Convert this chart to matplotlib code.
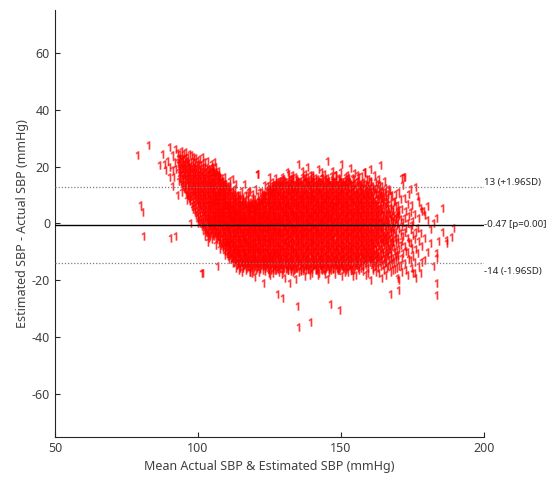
import matplotlib
matplotlib.use("Agg")
import matplotlib.pyplot as plt
import numpy as np
from matplotlib.textpath import TextPath
from matplotlib.font_manager import FontProperties
from matplotlib.path import Path

plt.rcParams["font.family"] = ["Noto Sans", "DejaVu Sans"]
plt.rcParams["axes.unicode_minus"] = False

# summary statistics of the differences
mean_diff = -0.47
upper_loa = 12.86
lower_loa = -13.8
label_upper = "13 (+1.96SD)"
label_mean = "-0.47 [p=0.00]"
label_lower = "-14 (-1.96SD)"

x_ticks = [50, 100, 150, 200]
y_ticks = [-60, -40, -20, 0, 20, 40, 60]

# sparse points on the low-pressure side (mean, difference)
left_points = [
    (78.6, 24.0), (79.6, 6.5), (80.4, 4.2), (80.7, -4.4), (82.5, 27.6),
    (86.5, 20.5), (87.4, 24.4), (88.0, 21.0), (88.6, 18.8), (89.0, 22.0),
    (89.7, 26.8), (89.7, 16.4), (90.0, 20.0), (90.3, -5.2), (90.9, 24.0),
    (91.0, 18.8), (91.0, 13.0), (91.4, 16.4), (91.5, 21.7), (92.0, -4.4),
    (92.0, 19.0), (92.5, 10.0), (92.6, 24.6), (92.6, 21.7), (97.3, 0.3),
    (99.7, 0.3), (101.4, 0.3), (103.4, 0.5), (101.0, -17.4), (95.9, 8.3),
]

# dense diagonal tail, columns of (mean, [differences])
tail_cols = [
    (93.0, [15, 18, 21, 23]), (93.25, [17.5, 20.5, 24.5]),
    (93.5, [16, 19, 22.5]), (93.75, [14.5, 18.5, 21.5]),
    (94.0, [11, 14, 17, 20, 23]), (94.25, [15.5, 19.5, 22.5]),
    (94.5, [13, 16, 19, 22]), (94.75, [12.5, 17.5, 20.5, 24.5]),
    (95.0, [12, 15, 18, 21]), (95.25, [13.5, 16.5, 19.5, 22.5]),
    (95.5, [11, 14, 17, 20, 23]), (95.75, [10.5, 15.5, 18.5, 21.5]),
    (96.0, [10, 13, 16, 19, 22]), (96.25, [11.5, 14.5, 17.5, 20.5, 23.5]),
    (96.5, [9, 12, 15, 18, 21]), (96.75, [8.5, 13.5, 16.5, 19.5]),
    (97.0, [8, 11, 14, 17, 20]), (97.25, [9.5, 12.5, 15.5, 18.5, 21.5]),
    (97.5, [6, 10, 13, 16, 19, 24]), (97.75, [7.5, 11.5, 14.5, 17.5, 20.5]),
    (98.0, [5, 9, 12, 15, 18, 22]), (98.25, [6.5, 10.5, 13.5, 16.5, 19.5, 23.5]),
    (98.5, [4, 8, 11, 14, 17, 20]), (98.75, [5.5, 9.5, 12.5, 15.5, 18.5, 21.5]),
    (99.0, [3, 7, 10, 13, 16, 19]), (99.25, [4.5, 8.5, 11.5, 14.5, 17.5, 20.5]),
    (99.5, [2, 6, 9, 12, 15, 18, 22]), (99.75, [3.5, 7.5, 10.5, 13.5, 16.5, 19.5]),
    (100.0, [1, 5, 8, 11, 14, 17, 21]), (100.25, [2.5, 6.5, 9.5, 12.5, 15.5, 18.5, 22.5]),
    (100.5, [0, 4, 7, 10, 13, 16, 19]), (100.75, [1.5, 5.5, 8.5, 11.5, 14.5, 17.5, 20.5]),
    (101.0, [-1, 3, 6, 9, 12, 15, 18]), (101.25, [0.5, 4.5, 7.5, 10.5, 13.5, 16.5, 19.5]),
    (101.5, [-2, 2, 5, 8, 11, 14, 17, 21]), (101.75, [-0.5, 3.5, 6.5, 9.5, 12.5, 15.5, 18.5]),
    (102.0, [-2, 1, 4, 7, 10, 13, 16, 20]), (102.25, [-1.5, 2.5, 5.5, 8.5, 11.5, 14.5, 17.5, 21.5]),
    (102.5, [-3, 0, 3, 6, 9, 12, 15, 18]), (102.75, [-2.5, 1.5, 4.5, 7.5, 10.5, 13.5, 16.5, 19.5]),
    (103.0, [-4, -1, 2, 5, 8, 11, 14, 17]), (103.25, [-3.5, 0.5, 3.5, 6.5, 9.5, 12.5, 15.5, 18.5]),
    (103.5, [-5, -2, 1, 4, 7, 10, 13, 16, 19]), (103.75, [-4.5, -0.5, 2.5, 5.5, 8.5, 11.5, 14.5, 17.5]),
]

core_cols_a = [
    (104.0, [-3, 0, 2, 5, 7, 9, 12, 14, 17, 19]),
    (104.5, [-2, 1, 3, 6, 8, 11, 13, 16, 18]),
    (105.0, [-4, -1, 2, 4, 7, 10, 12, 15, 18, 20]),
    (105.5, [-3, 0, 3, 5, 8, 9, 11, 14, 17, 21.7]),
    (106.0, [-5, -2, 1, 3, 6, 8, 10, 13, 16, 18]),
    (106.5, [-4, -1, 2, 4, 7, 9, 12, 15, 17, -15]),
    (107.0, [-6, -3, 0, 2, 5, 8, 10, 12, 15, 17]),
    (107.5, [-5, -2, 1, 3, 6, 9, 11, 14, 16]),
    (108.0, [-7, -4, -1, 2, 4, 6, 9, 11, 13, 16]),
    (108.5, [-8, -5, -2, 0, 3, 5, 8, 10, 13, 15]),
    (109.0, [-9, -6, -3, -1, 2, 4, 7, 9, 12, 14]),
    (109.5, [-8, -6, -4, -1, 1, 3, 6, 8, 11, 14]),
    (110.0, [-10, -7, -5, -2, 0, 3, 5, 7, 10, 13]),
    (110.5, [-11, -8, -6, -3, -1, 2, 4, 6, 9, 12]),
    (111.0, [-11, -9, -6, -4, -1, 1, 3, 6, 8, 11, 13]),
    (111.5, [-12, -10, -7, -5, -2, 0, 2, 5, 7, 10]),
    (112.0, [-12, -9, -7, -4, -2, 1, 3, 5, 8, 11, 15.5]),
    (112.5, [-13, -11, -8, -6, -3, -1, 2, 4, 7, 9, 12]),
    (113.0, [-13, -10, -8, -5, -3, 0, 2, 4, 6, 9, 14]),
    (113.5, [-14, -12, -9, -7, -4, -2, 1, 3, 5, 8, 10]),
    (114.0, [-14, -11, -9, -6, -4, -1, 1, 4, 6, 9]),
    (114.5, [-15, -12, -10, -7, -5, -2, 0, 2, 5, 7, 10]),
    (115.0, [-14, -12, -9, -7, -4, -2, 1, 3, 6, 8, -17]),
    (115.5, [-15, -13, -10, -8, -5, -3, 0, 2, 4, 7, 9]),
    (116.0, [-14, -11, -9, -6, -4, -1, 1, 3, 6, 8, 14]),
    (116.5, [-15, -12, -10, -7, -5, -3, 0, 2, 5, 7, 10]),
    (117.0, [-14, -13, -10, -8, -6, -3, -1, 2, 4, 6]),
    (117.5, [-15, -12, -9, -7, -4, -2, 0, 3, 5, 7, 11]),
    (118.0, [-14, -11, -9, -6, -4, -1, 1, 4, 6, 11.5, -16.9]),
    (118.5, [-15, -13, -10, -8, -5, -3, 0, 2, 5, 7]),
    (119.0, [-14, -12, -9, -7, -4, -2, 1, 3, 6, 9]),
    (119.5, [-15, -13, -11, -8, -6, -3, -1, 2, 4, 7, -18.8]),
    (120.0, [-14, -12, -9, -7, -4, -2, 0, 3, 5, 7, 12, -16.5]),
    (120.5, [-15, -13, -10, -8, -5, -3, -1, 2, 4, 6, 17.4]),
    (121.0, [-14, -11, -9, -6, -4, -1, 1, 3, 6, 8]),
    (121.5, [-16, -13, -10, -8, -5, -3, 0, 2, 5, 7]),
    (122.0, [-14, -12, -9, -7, -4, -2, 1, 3, 6, 8, 11]),
    (122.5, [-15, -13, -11, -8, -6, -3, -1, 2, 4, 7, 9]),
    (123.0, [-14, -12, -10, -7, -5, -2, 0, 3, 5, 8, 10, 13.5]),
    (123.5, [-15, -13, -10, -8, -5, -3, 0, 2, 5, 7, 10]),
    (124.0, [-14, -12, -9, -7, -4, -2, 1, 3, 6, 8, 11]),
    (124.5, [-16, -13, -11, -8, -6, -3, -1, 2, 4, 7, 9, 12]),
    (125.0, [-15, -12, -10, -7, -5, -2, 0, 3, 5, 8, 10, 12]),
    (125.5, [-14, -12, -9, -6, -4, -1, 1, 4, 6, 9, 11, 13]),
    (126.0, [-16, -13, -11, -8, -5, -3, 0, 2, 5, 7, 10, 12, -17.5]),
    (126.5, [-15, -12, -10, -7, -4, -2, 1, 3, 6, 8, 11, 13]),
    (127.0, [-14, -11, -9, -6, -4, -1, 1, 4, 6, 9, 12, 14, 16]),
    (127.5, [-16, -13, -10, -8, -5, -3, 0, 2, 5, 7, 10, 13]),
]

core_cols_c = [
    (104.25, [-2.5, -0.5, 1.5, 4.5, 6.5, 8.5, 10.5, 13.5, 15.5, 18.5]),
    (104.75, [-3.5, -1.5, 0.5, 3.5, 5.5, 7.5, 10.5, 12.5, 14.5, 16.5, 19.5]),
    (105.25, [-4.5, -0.5, 1.5, 3.5, 6.5, 8.5, 11.5, 13.5, 16.5, 18.5]),
    (105.75, [-2.5, -1.5, 0.5, 2.5, 4.5, 7.5, 9.5, 12.5, 14.5, 17.5]),
    (106.25, [-5.5, -3.5, -0.5, 1.5, 4.5, 5.5, 7.5, 9.5, 11.5, 14.5, 17.5]),
    (106.75, [-4.5, -2.5, 0.5, 2.5, 3.5, 6.5, 8.5, 10.5, 13.5, 16.5]),
    (107.25, [-6.5, -4.5, -1.5, 0.5, 3.5, 4.5, 6.5, 9.5, 11.5, 13.5, 16.5]),
    (107.75, [-7.5, -3.5, -0.5, 1.5, 4.5, 7.5, 9.5, 12.5, 14.5]),
    (108.25, [-8.5, -5.5, -2.5, 0.5, 1.5, 3.5, 5.5, 7.5, 10.5, 12.5, 14.5]),
    (108.75, [-6.5, -3.5, -0.5, 1.5, 4.5, 6.5, 9.5, 11.5, 13.5]),
    (109.25, [-9.5, -7.5, -4.5, -2.5, 0.5, 2.5, 5.5, 7.5, 8.5, 10.5, 13.5]),
    (109.75, [-10.5, -7.5, -5.5, -2.5, -0.5, 1.5, 4.5, 6.5, 9.5, 12.5]),
    (110.25, [-11.5, -8.5, -6.5, -3.5, -1.5, 1.5, 3.5, 4.5, 6.5, 8.5, 11.5]),
    (110.75, [-9.5, -7.5, -4.5, -2.5, 0.5, 2.5, 5.5, 7.5, 10.5, 12.5]),
    (111.25, [-12.5, -10.5, -7.5, -5.5, -3.5, -0.5, 1.5, 3.5, 4.5, 6.5, 9.5]),
    (111.75, [-11.5, -8.5, -6.5, -3.5, -1.5, 0.5, 3.5, 5.5, 8.5, 11.5]),
    (112.25, [-13.5, -10.5, -8.5, -5.5, -3.5, -0.5, 1.5, 2.5, 4.5, 6.5, 9.5]),
    (112.75, [-12.5, -9.5, -7.5, -4.5, -1.5, 0.5, 3.5, 5.5, 7.5, 10.5]),
    (113.25, [-14.5, -11.5, -9.5, -6.5, -3.5, -1.5, 0.5, 2.5, 4.5, 7.5]),
    (113.75, [-13.5, -10.5, -8.5, -5.5, -2.5, -0.5, 1.5, 3.5, 6.5, 9.5]),
    (114.25, [-15.5, -12.5, -10.5, -7.5, -5.5, -2.5, -0.5, 2.5, 3.5, 5.5, 8.5]),
    (114.75, [-13.5, -11.5, -8.5, -6.5, -3.5, -1.5, 0.5, 1.5, 3.5, 6.5]),
    (115.25, [-15.5, -13.5, -10.5, -8.5, -5.5, -3.5, -0.5, 1.5, 4.5, 5.5, 8.5]),
    (115.75, [-14.5, -11.5, -9.5, -6.5, -4.5, -1.5, 0.5, 2.5, 3.5, 6.5]),
    (116.25, [-13.5, -12.5, -10.5, -7.5, -5.5, -2.5, -0.5, 1.5, 4.5, 7.5]),
    (116.75, [-15.5, -13.5, -11.5, -8.5, -6.5, -3.5, -1.5, 0.5, 2.5, 5.5]),
    (117.25, [-14.5, -11.5, -9.5, -7.5, -4.5, -2.5, 0.5, 1.5, 3.5, 5.5, 8.5]),
    (117.75, [-15.5, -13.5, -10.5, -8.5, -5.5, -3.5, -0.5, 2.5, 4.5, 6.5]),
    (118.25, [-14.5, -12.5, -10.5, -7.5, -5.5, -2.5, -0.5, 1.5, 3.5, 5.5, 7.5]),
    (118.75, [-16.5, -13.5, -11.5, -8.5, -6.5, -3.5, -1.5, 0.5, 3.5, 6.5]),
    (119.25, [-15.5, -12.5, -10.5, -8.5, -5.5, -2.5, -0.5, 1.5, 4.5, 5.5, 7.5]),
    (119.75, [-13.5, -11.5, -9.5, -6.5, -4.5, -1.5, 0.5, 2.5, 3.5, 5.5, 8.5]),
    (120.25, [-15.5, -13.5, -10.5, -8.5, -5.5, -3.5, -0.5, 1.5, 4.5, 6.5]),
    (120.75, [-14.5, -12.5, -9.5, -6.5, -4.5, -1.5, 0.5, 2.5, 5.5, 7.5, 9.5]),
    (121.25, [-15.5, -13.5, -10.5, -7.5, -5.5, -2.5, -0.5, 1.5, 3.5, 4.5, 7.5]),
    (121.75, [-14.5, -11.5, -9.5, -6.5, -3.5, -1.5, 1.5, 3.5, 6.5, 8.5]),
    (122.25, [-16.5, -13.5, -10.5, -8.5, -5.5, -3.5, -0.5, 0.5, 2.5, 4.5, 7.5, 9.5]),
    (122.75, [-14.5, -12.5, -9.5, -6.5, -4.5, -1.5, 1.5, 3.5, 5.5, 8.5, 10.5]),
    (123.25, [-15.5, -13.5, -11.5, -8.5, -5.5, -3.5, -0.5, 1.5, 4.5, 6.5, 9.5]),
    (123.75, [-14.5, -12.5, -9.5, -6.5, -3.5, -1.5, 0.5, 2.5, 3.5, 7.5, 11.5]),
    (124.25, [-15.5, -13.5, -10.5, -8.5, -5.5, -2.5, -0.5, 1.5, 4.5, 6.5, 9.5]),
    (124.75, [-14.5, -11.5, -9.5, -6.5, -4.5, -1.5, 0.5, 3.5, 5.5, 8.5, 10.5, 13.5]),
    (125.25, [-16.5, -13.5, -11.5, -8.5, -5.5, -3.5, -0.5, 1.5, 4.5, 6.5, 9.5, 11.5]),
    (125.75, [-15.5, -12.5, -10.5, -7.5, -4.5, -2.5, 0.5, 2.5, 5.5, 7.5, 10.5, 12.5]),
    (126.25, [-14.5, -11.5, -9.5, -6.5, -3.5, -1.5, 1.5, 3.5, 6.5, 8.5, 11.5, 13.5]),
    (126.75, [-16.5, -13.5, -10.5, -8.5, -5.5, -2.5, -0.5, 2.5, 4.5, 7.5, 9.5, 12.5]),
    (127.25, [-15.5, -12.5, -10.5, -7.5, -4.5, -2.5, 0.5, 2.5, 5.5, 8.5, 10.5, 13.5]),
    (127.75, [-14.5, -11.5, -8.5, -6.5, -3.5, -0.5, 1.5, 4.5, 6.5, 9.5, 11.5, 14.5]),
]

core_cols_b = [
    (128.0, [-15, -12, -10, -7, -4, -2, 1, 3, 6, 8, 11, 14]),
    (128.5, [-14, -11, -9, -6, -3, -1, 2, 4, 7, 9, 12, 15]),
    (129.0, [-16, -13, -10, -8, -5, -3, 0, 2, 5, 8, 10, 13]),
    (129.5, [-15, -12, -9, -7, -4, -1, 1, 4, 6, 9, 11, 14]),
    (130.0, [-14, -12, -10, -7, -5, -2, 0, 3, 5, 7, 10, 13, 15, -19]),
    (130.5, [-16, -13, -11, -8, -6, -3, -1, 2, 4, 6, 9, 12]),
    (131.0, [-15, -12, -9, -6, -4, -1, 1, 3, 6, 8, 11, 14, 18]),
    (131.5, [-14, -11, -8, -6, -3, 0, 2, 5, 7, 10, 12, 15]),
    (132.0, [-16, -13, -10, -7, -5, -2, 0, 3, 5, 8, 11, 13, -16.8]),
    (132.5, [-15, -12, -9, -7, -4, -2, 1, 4, 6, 9, 12, 14]),
    (133.0, [-14, -11, -9, -6, -3, -1, 2, 4, 7, 10, 12, 16]),
    (133.5, [-16, -13, -10, -8, -5, -2, 0, 3, 5, 8, 11, 13]),
    (134.0, [-15, -12, -10, -7, -4, -2, 1, 3, 6, 9, 11, 14]),
    (134.5, [-14, -11, -8, -6, -3, 0, 2, 5, 7, 10, 13, 15]),
    (135.0, [-17, -13, -10, -7, -5, -2, 1, 3, 6, 8, 11, 14]),
    (135.5, [-15, -12, -9, -6, -4, -1, 2, 4, 7, 9, 12, 15]),
    (136.0, [-14, -11, -8, -5, -3, 0, 3, 5, 8, 10, 13]),
    (136.5, [-16, -13, -10, -7, -4, -2, 1, 3, 6, 9, 11, 14]),
    (137.0, [-15, -12, -9, -6, -3, -1, 2, 5, 7, 10, 12, 16, -18.5]),
    (137.5, [-14, -11, -8, -5, -3, 0, 3, 5, 8, 11, 13, 15, 17.5]),
    (138.0, [-16, -13, -10, -7, -4, -1, 1, 4, 6, 9, 12, 14, 19.8]),
    (138.5, [-15, -12, -9, -6, -3, 0, 2, 4, 7, 10, 13, 15]),
    (139.0, [-14, -11, -8, -6, -3, -1, 2, 5, 8, 10, 12, 14]),
    (139.5, [-16, -13, -10, -7, -5, -2, 1, 3, 6, 9, 11, 15]),
    (140.0, [-15, -12, -9, -6, -4, -1, 2, 4, 7, 9, 12, 14, 17]),
    (140.5, [-14, -11, -8, -5, -2, 0, 3, 5, 8, 11, 13]),
    (141.0, [-16, -13, -10, -7, -4, -2, 1, 4, 6, 9, 12, 15, -16.5]),
    (141.5, [-15, -12, -9, -6, -3, -1, 2, 5, 7, 10, 13, 14]),
    (142.0, [-14, -11, -8, -5, -3, 0, 3, 5, 8, 11, 12, 15, 19]),
    (142.5, [-16, -13, -10, -7, -4, -1, 1, 4, 6, 9, 11, 14]),
    (143.0, [-15, -12, -9, -6, -3, 0, 2, 5, 7, 10, 13, 16]),
    (143.5, [-14, -11, -8, -5, -2, 1, 3, 6, 8, 11, 14]),
    (144.0, [-16, -13, -10, -7, -4, -1, 2, 4, 7, 9, 12, 15, -17.8]),
    (144.5, [-15, -12, -9, -6, -3, 0, 3, 5, 8, 10, 13]),
    (145.0, [-14, -11, -8, -5, -2, 1, 3, 6, 9, 11, 14, 16]),
    (145.5, [-16, -12, -9, -7, -4, -1, 2, 4, 7, 10, 12, 15]),
    (146.0, [-15, -13, -10, -6, -3, 0, 2, 5, 8, 11, 13]),
    (146.5, [-14, -11, -8, -5, -2, 1, 4, 6, 9, 12, 14]),
    (147.0, [-16, -12, -9, -6, -4, -1, 2, 5, 7, 10, 13, 15, 18.5]),
    (147.5, [-15, -13, -10, -7, -3, 0, 3, 6, 8, 11, 14]),
    (148.0, [-14, -11, -8, -5, -2, 1, 4, 6, 9, 12, 15, 17]),
    (148.5, [-16, -12, -9, -6, -3, -1, 2, 5, 8, 10, 13]),
    (149.0, [-15, -13, -10, -7, -4, 0, 3, 6, 9, 11, 14, 16]),
    (149.5, [-14, -11, -8, -5, -2, 1, 4, 7, 10, 12, 15]),
    (150.0, [-15, -12, -9, -6, -3, 0, 2, 5, 8, 11, 13, 21, -18.5]),
    (150.5, [-16, -13, -10, -7, -4, -1, 3, 6, 9, 12, 14]),
    (151.0, [-14, -11, -8, -5, -2, 1, 4, 7, 10, 13, 15]),
    (151.5, [-15, -12, -9, -6, -3, 0, 2, 5, 8, 11, 14]),
    (152.0, [-13, -10, -7, -4, -1, 2, 5, 7, 10, 13, 17, -17]),
    (152.5, [-15, -12, -9, -6, -3, 0, 3, 6, 9, 12, 15]),
    (153.0, [-14, -11, -8, -5, -2, 1, 4, 8, 11, 14, 19.4]),
    (153.5, [-16, -12, -9, -6, -3, 0, 3, 6, 9, 12]),
    (154.0, [-13, -10, -7, -4, -1, 2, 5, 8, 11, 13, 16]),
    (154.5, [-15, -11, -8, -5, -2, 1, 4, 7, 10, 14]),
    (155.0, [-14, -12, -9, -6, -3, 0, 3, 6, 9, 12, -18]),
    (155.5, [-13, -10, -7, -4, -1, 2, 5, 8, 11, 15]),
    (156.0, [-15, -11, -8, -5, -2, 1, 4, 7, 10, 13, 16.5, -16.5]),
    (156.5, [-14, -12, -9, -6, -3, 0, 3, 6, 9, 12, 14]),
    (157.0, [-13, -10, -7, -4, -1, 2, 5, 8, 11, 13]),
    (157.5, [-15, -11, -8, -5, -2, 1, 4, 7, 10, 14]),
    (158.0, [-14, -12, -9, -6, -3, 0, 3, 6, 9, 12, 18]),
]

core_cols_d = [
    (128.25, [-15.5, -12.5, -10.5, -7.5, -4.5, -2.5, 0.5, 2.5, 5.5, 7.5, 10.5, 13.5]),
    (128.75, [-14.5, -13.5, -11.5, -8.5, -5.5, -3.5, -0.5, 1.5, 4.5, 6.5, 9.5, 12.5, 14.5]),
    (129.25, [-16.5, -13.5, -9.5, -6.5, -3.5, -1.5, 1.5, 3.5, 6.5, 8.5, 11.5, 13.5]),
    (129.75, [-15.5, -11.5, -8.5, -5.5, -2.5, -0.5, 2.5, 4.5, 7.5, 9.5, 12.5, 15.5]),
    (130.25, [-14.5, -12.5, -9.5, -7.5, -4.5, -1.5, 0.5, 3.5, 5.5, 8.5, 10.5, 14.5]),
    (130.75, [-15.5, -12.5, -10.5, -7.5, -4.5, -2.5, 0.5, 2.5, 5.5, 7.5, 10.5, 13.5]),
    (131.25, [-16.5, -13.5, -9.5, -6.5, -3.5, -1.5, 1.5, 3.5, 6.5, 8.5, 11.5, 13.5]),
    (131.75, [-14.5, -13.5, -11.5, -8.5, -5.5, -3.5, -0.5, 1.5, 4.5, 6.5, 9.5, 12.5, 14.5]),
    (132.25, [-15.5, -11.5, -8.5, -5.5, -2.5, -0.5, 2.5, 4.5, 7.5, 9.5, 12.5, 15.5]),
    (132.75, [-14.5, -12.5, -9.5, -7.5, -4.5, -1.5, 0.5, 3.5, 5.5, 8.5, 10.5, 14.5]),
    (133.25, [-16.5, -13.5, -9.5, -6.5, -3.5, -1.5, 1.5, 3.5, 6.5, 8.5, 11.5, 13.5]),
    (133.75, [-15.5, -12.5, -10.5, -7.5, -4.5, -2.5, 0.5, 2.5, 5.5, 7.5, 10.5, 13.5]),
    (134.25, [-15.5, -11.5, -8.5, -5.5, -2.5, -0.5, 2.5, 4.5, 7.5, 9.5, 12.5, 15.5]),
    (134.75, [-14.5, -13.5, -11.5, -8.5, -5.5, -3.5, -0.5, 1.5, 4.5, 6.5, 9.5, 12.5, 14.5]),
    (135.25, [-14.5, -12.5, -9.5, -7.5, -4.5, -1.5, 0.5, 3.5, 5.5, 8.5, 10.5, 14.5]),
    (135.75, [-16.5, -13.5, -9.5, -6.5, -3.5, -1.5, 1.5, 3.5, 6.5, 8.5, 11.5, 13.5]),
    (136.25, [-15.5, -12.5, -10.5, -7.5, -4.5, -2.5, 0.5, 2.5, 5.5, 7.5, 10.5, 13.5, 16.5]),
    (136.75, [-15.5, -11.5, -8.5, -5.5, -2.5, -0.5, 2.5, 4.5, 7.5, 9.5, 12.5, 15.5]),
    (137.25, [-14.5, -13.5, -11.5, -8.5, -5.5, -3.5, -0.5, 1.5, 4.5, 6.5, 9.5, 12.5, 14.5]),
    (137.75, [-14.5, -12.5, -9.5, -7.5, -4.5, -1.5, 0.5, 3.5, 5.5, 8.5, 10.5, 14.5]),
    (138.25, [-15.5, -12.5, -10.5, -7.5, -4.5, -2.5, 0.5, 2.5, 5.5, 7.5, 10.5, 13.5]),
    (138.75, [-16.5, -13.5, -9.5, -6.5, -3.5, -1.5, 1.5, 3.5, 6.5, 8.5, 11.5, 13.5]),
    (139.25, [-15.5, -11.5, -8.5, -5.5, -2.5, -0.5, 2.5, 4.5, 7.5, 9.5, 12.5, 15.5]),
    (139.75, [-14.5, -13.5, -11.5, -8.5, -5.5, -3.5, -0.5, 1.5, 4.5, 6.5, 9.5, 12.5, 14.5]),
    (140.25, [-14.5, -12.5, -9.5, -7.5, -4.5, -1.5, 0.5, 3.5, 5.5, 8.5, 10.5, 14.5]),
    (140.75, [-15.5, -12.5, -10.5, -7.5, -4.5, -2.5, 0.5, 2.5, 5.5, 7.5, 10.5, 13.5]),
    (141.25, [-16.5, -13.5, -9.5, -6.5, -3.5, -1.5, 1.5, 3.5, 6.5, 8.5, 11.5, 13.5]),
    (141.75, [-15.5, -11.5, -8.5, -5.5, -2.5, -0.5, 2.5, 4.5, 7.5, 9.5, 12.5, 15.5]),
    (142.25, [-14.5, -13.5, -11.5, -8.5, -5.5, -3.5, -0.5, 1.5, 4.5, 6.5, 9.5, 12.5, 14.5]),
    (142.75, [-14.5, -12.5, -9.5, -7.5, -4.5, -1.5, 0.5, 3.5, 5.5, 8.5, 10.5, 14.5]),
    (143.25, [-15.5, -12.5, -10.5, -7.5, -4.5, -2.5, 0.5, 2.5, 5.5, 7.5, 10.5, 13.5]),
    (143.75, [-16.5, -13.5, -9.5, -6.5, -3.5, -1.5, 1.5, 3.5, 6.5, 8.5, 11.5, 13.5]),
    (144.25, [-15.5, -11.5, -8.5, -5.5, -2.5, -0.5, 2.5, 4.5, 7.5, 9.5, 12.5, 15.5]),
    (144.75, [-14.5, -13.5, -11.5, -8.5, -5.5, -3.5, -0.5, 1.5, 4.5, 6.5, 9.5, 12.5, 14.5]),
    (145.25, [-14.5, -12.5, -9.5, -7.5, -4.5, -1.5, 0.5, 3.5, 5.5, 8.5, 10.5, 14.5]),
    (145.75, [-15.5, -12.5, -10.5, -7.5, -4.5, -2.5, 0.5, 2.5, 5.5, 7.5, 10.5, 13.5]),
    (146.25, [-16.5, -13.5, -9.5, -6.5, -3.5, -1.5, 1.5, 3.5, 6.5, 8.5, 11.5, 13.5]),
    (146.75, [-15.5, -11.5, -8.5, -5.5, -2.5, -0.5, 2.5, 4.5, 7.5, 9.5, 12.5, 15.5]),
    (147.25, [-14.5, -13.5, -11.5, -8.5, -5.5, -3.5, -0.5, 1.5, 4.5, 6.5, 9.5, 12.5, 14.5]),
    (147.75, [-14.5, -12.5, -9.5, -7.5, -4.5, -1.5, 0.5, 3.5, 5.5, 8.5, 10.5, 14.5]),
    (148.25, [-15.5, -12.5, -10.5, -7.5, -4.5, -2.5, 0.5, 2.5, 5.5, 7.5, 10.5, 13.5]),
    (148.75, [-16.5, -13.5, -9.5, -6.5, -3.5, -1.5, 1.5, 3.5, 6.5, 8.5, 11.5, 13.5]),
    (149.25, [-15.5, -11.5, -8.5, -5.5, -2.5, -0.5, 2.5, 4.5, 7.5, 9.5, 12.5, 15.5]),
    (149.75, [-14.5, -13.5, -11.5, -8.5, -5.5, -3.5, -0.5, 1.5, 4.5, 6.5, 9.5, 12.5, 14.5]),
    (150.25, [-14.5, -12.5, -9.5, -7.5, -4.5, -1.5, 0.5, 3.5, 5.5, 8.5, 10.5, 14.5]),
    (150.75, [-15.5, -12.5, -10.5, -7.5, -4.5, -2.5, 0.5, 2.5, 5.5, 7.5, 10.5, 13.5]),
    (151.25, [-16.5, -13.5, -9.5, -6.5, -3.5, -1.5, 1.5, 3.5, 6.5, 8.5, 11.5, 13.5]),
    (151.75, [-15.5, -11.5, -8.5, -5.5, -2.5, -0.5, 2.5, 4.5, 7.5, 9.5, 12.5, 15.5]),
    (152.25, [-14.5, -13.5, -11.5, -8.5, -5.5, -3.5, -0.5, 1.5, 4.5, 6.5, 9.5, 12.5, 14.5]),
    (152.75, [-14.5, -12.5, -9.5, -7.5, -4.5, -1.5, 0.5, 3.5, 5.5, 8.5, 10.5, 14.5]),
    (153.25, [-15.5, -12.5, -10.5, -7.5, -4.5, -2.5, 0.5, 2.5, 5.5, 7.5, 10.5, 13.5]),
    (153.75, [-16.5, -13.5, -9.5, -6.5, -3.5, -1.5, 1.5, 3.5, 6.5, 8.5, 11.5, 13.5]),
    (154.25, [-15.5, -11.5, -8.5, -5.5, -2.5, -0.5, 2.5, 4.5, 7.5, 9.5, 12.5, 15.5]),
    (154.75, [-14.5, -13.5, -11.5, -8.5, -5.5, -3.5, -0.5, 1.5, 4.5, 6.5, 9.5, 12.5]),
    (155.25, [-14.5, -12.5, -9.5, -7.5, -4.5, -1.5, 0.5, 3.5, 5.5, 8.5, 10.5, 14.5]),
    (155.75, [-15.5, -12.5, -10.5, -7.5, -4.5, -2.5, 0.5, 2.5, 5.5, 7.5, 10.5, 13.5]),
    (156.25, [-13.5, -9.5, -6.5, -3.5, -1.5, 1.5, 3.5, 6.5, 8.5, 11.5, 13.5]),
    (156.75, [-15.5, -11.5, -8.5, -5.5, -2.5, -0.5, 2.5, 4.5, 7.5, 9.5, 12.5]),
    (157.25, [-14.5, -11.5, -8.5, -5.5, -3.5, -0.5, 1.5, 4.5, 6.5, 9.5, 12.5]),
    (157.75, [-12.5, -9.5, -7.5, -4.5, -1.5, 0.5, 3.5, 5.5, 8.5, 10.5, 14.5]),
]

right_cols = [
    (158.25, [-14.5, -11.5, -8.5, -5.5, -2.5, 0.5, 3.5, 6.5, 9.5, 12.5]),
    (158.5, [-13, -10, -7, -4, -1, 2, 5, 8, 11, 14]),
    (158.75, [-12.5, -9.5, -6.5, -3.5, -0.5, 2.5, 5.5, 8.5, 11.5, 15.5]),
    (159.0, [-14, -11, -8, -5, -2, 1, 4, 7, 10, 13, -17.5]),
    (159.25, [-15.5, -10.5, -7.5, -4.5, -1.5, 1.5, 4.5, 7.5, 10.5, 13.5]),
    (159.5, [-12, -9, -6, -3, 0, 3, 6, 9, 12]),
    (159.75, [-13.5, -11.5, -8.5, -5.5, -2.5, 0.5, 3.5, 6.5, 9.5, 12.5]),
    (160.0, [-13, -10, -7, -4, -1, 2, 5, 8, 11, 15, 19, -20]),
    (160.25, [-12.5, -9.5, -6.5, -3.5, -0.5, 2.5, 5.5, 8.5, 11.5, 14.5]),
    (160.5, [-14, -11, -8, -5, -2, 1, 4, 7, 10]),
    (160.75, [-15.5, -12.5, -9.5, -6.5, -3.5, 0.5, 3.5, 6.5, 9.5, 12.5]),
    (161.0, [-12, -9, -6, -3, 0, 3, 6, 9, 13]),
    (161.25, [-13.5, -10.5, -7.5, -4.5, -1.5, 1.5, 4.5, 7.5, 11.5]),
    (161.5, [-15, -11, -7, -4, -1, 2, 5, 8, 12]),
    (161.75, [-14.5, -11.5, -8.5, -5.5, -2.5, 0.5, 3.5, 6.5, 10.5, 14.5]),
    (162.0, [-13, -9, -5, -2, 1, 4, 7, 11, -17]),
    (162.25, [-12.5, -10.5, -6.5, -3.5, -0.5, 2.5, 5.5, 8.5, 12.5]),
    (162.5, [-14, -10, -6, -3, 0, 3, 6, 10, 14]),
    (162.75, [-15.5, -11.5, -7.5, -4.5, -1.5, 1.5, 4.5, 8.5]),
    (163.0, [-12, -8, -4, -1, 2, 5, 9, 12]),
    (163.25, [-13.5, -9.5, -5.5, -2.5, 0.5, 3.5, 6.5, 10.5, 13.5]),
    (163.5, [-15, -11, -7, -3, 0, 4, 8, 11, 20.5]),
    (163.75, [-12.5, -8.5, -5.5, -1.5, 2.5, 5.5, 9.5]),
    (164.0, [-13, -9, -5, -2, 1, 5, 9, 13, -19]),
    (164.25, [-14.5, -10.5, -6.5, -3.5, -0.5, 3.5, 7.5, 11.5]),
    (164.5, [-10, -6, -3, 0, 3, 7, 10]),
    (164.75, [-16.5, -12.5, -7.5, -4.5, 0.5, 4.5, 8.5]),
    (165.0, [-14, -11, -7, -4, -1, 2, 6, 11, 15]),
    (165.25, [-13.5, -9.5, -5.5, -2.5, 1.5, 5.5, 9.5, 12.5]),
    (165.5, [-12, -8, -5, -1, 3, 8]),
    (165.75, [-15.5, -10.5, -6.5, -3.5, 0.5, 3.5, 7.5]),
    (166.0, [-15, -10, -6, -2, 1, 5, 9]),
    (166.25, [-11.5, -7.5, -4.5, -0.5, 2.5, 6.5, 10.5]),
    (166.5, [-13, -9, -4, 0, 4, 12]),
    (166.75, [-14.5, -8.5, -5.5, -1.5, 3.5]),
    (167.0, [-17, -11, -7, -3, 2, 7, -24.8]),
    (167.25, [-12.5, -9.5, -2.5, 1.5, 5.5, 9.5]),
    (167.5, [-14, -8, -5, -1, 3, 10]),
    (167.75, [-16.5, -6.5, -3.5, 0.5, 4.5]),
    (168.0, [-12, -6, -2, 1, 5]),
    (168.25, [-13.5, -8.5, -1.5, 2.5, 7.5]),
    (168.5, [-16, -10, -4, 0, 8]),
    (168.75, [-11.5, -5.5, 1.5, 10.5]),
    (169.0, [-13, -7, -3, 2, 6]),
    (169.25, [-15.5, -9.5, -0.5, 3.5]),
    (169.5, [-19, -11, -5, 0, 4]),
    (169.75, [-12.5, -6.5, 2.5, 6.5]),
    (170.0, [-15, -9, -2, 3, 11, -23.4]),
    (170.5, [-14.5, -7.5, -3.5, 1.5, 8.5]),
    (171.0, [-17, -12, -6, -1, 5, 16]),
    (171.5, [-10.5, -4.5, 0.5, 13.5]),
    (172.0, [-14, -8, -3, 2, 9, 16.4]),
    (172.5, [-16.5, -9.5, -1.5, 4.5]),
    (173.0, [-18, -10, -5, 0, 7]),
    (173.5, [-12.5, -6.5, 2.5, 10.5]),
    (174.0, [-13, -7, -2, 4, 12]),
    (174.5, [-15.5, -8.5, -0.5, 6.5]),
    (175.0, [-17.5, -11, -4, 1]),
    (175.5, [-13.5, -5.5, 3.5]),
    (176.0, [-19, -9, -3, 12.9]),
    (176.5, [-10.5, -1.5, 9.5]),
    (177.0, [-15, -6, 2, 8]),
    (177.5, [-17.5, -3.5, 5.5]),
    (178.0, [-13.4, -8, 4.5]),
    (179.0, [-12.8, -5, 3]),
    (180.0, [-10, 1.2, 6]),
    (181.0, [-7, -2]),
    (182.0, [-15, 0]),
    (183.3, [-10.5, -12.2, -20.8, -25.1, 2]),
    (184.0, [-6]),
    (185.2, [5.3, -3]),
    (186.7, [-5.8, -7]),
    (188.4, [-4.6]),
    (189.0, [-1.7]),
]

# isolated low outliers below the main cloud
lower_strays = [
    (101.4, -17.5), (113.0, -15.5), (117.8, -16.9), (122.8, -21.0),
    (125.0, -18.0), (127.7, -24.8), (128.0, -17.0), (129.5, -26.3),
    (131.7, -21.0), (134.0, -19.5), (134.7, -28.9), (134.9, -36.5),
    (138.7, -18.0), (139.0, -34.6), (142.0, -17.5), (145.2, -19.5),
    (146.0, -28.3), (149.2, -30.4), (169.8, -19.8), (175.6, -17.5),
]

# isolated high points above the main cloud
upper_strays = [
    (120.7, 17.4), (125.0, 16.5), (128.9, 15.3), (133.0, 17.0),
    (135.0, 21.0), (140.0, 16.5), (143.0, 18.0), (145.0, 22.0),
    (148.0, 17.0), (158.0, 18.0), (166.8, 11.8), (169.8, 4.7),
    (171.8, 16.4), (178.5, 4.5),
]

# ragged fringe along the top of the cloud
upper_fringe = [
    (129.5, 16.5), (131.5, 17.5), (134.0, 16.2), (136.5, 18.3),
    (139.0, 17.2), (141.0, 16.0), (144.0, 17.5), (146.5, 16.8),
    (149.5, 18.2), (151.5, 16.3), (154.5, 17.8), (157.0, 16.8),
    (159.5, 15.8), (161.5, 17.2), (163.0, 15.6), (132.5, 15.8),
    (138.0, 16.5), (143.5, 15.9), (152.5, 15.9), (155.5, 17.0),
    (126.0, 14.5), (124.0, 13.0), (121.5, 11.0), (119.0, 10.5),
    (117.0, 10.0), (115.0, 11.5), (111.0, 15.0), (109.0, 16.5),
    (107.0, 18.5), (106.0, 20.0), (104.5, 21.0), (103.0, 22.0),
    (101.5, 23.5), (99.0, 23.0), (97.0, 24.5), (95.5, 25.0),
    (94.0, 25.5), (92.0, 26.0),
]

# ragged fringe along the bottom of the cloud
lower_fringe = [
    (112.0, -14.0), (114.0, -16.2), (116.5, -16.5), (118.5, -17.5),
    (121.0, -17.0), (123.0, -16.8), (124.5, -17.5), (127.0, -16.5),
    (129.0, -17.8), (131.0, -16.3), (133.0, -17.0), (135.5, -16.7),
    (137.5, -16.2), (139.5, -17.3), (141.5, -18.0), (143.0, -16.4),
    (145.5, -16.9), (147.5, -17.6), (149.0, -16.3), (151.0, -17.1),
    (153.0, -16.4), (154.0, -18.4), (157.5, -16.8), (158.5, -18.2),
    (161.0, -16.5), (163.0, -17.4), (165.5, -18.0), (110.5, -12.5),
    (109.0, -11.0), (107.5, -9.0), (106.0, -7.5), (104.5, -5.5),
    (103.0, -6.5), (102.0, -4.5),
]


def build_points():
    xs, ys = [], []
    singles = left_points + lower_strays + upper_strays + upper_fringe + lower_fringe
    for x, y in singles:
        xs.append(x)
        ys.append(y)
    for cols in (tail_cols, core_cols_a, core_cols_c, core_cols_b,
                 core_cols_d, right_cols):
        for x, diffs in cols:
            for d in diffs:
                xs.append(x)
                ys.append(d)
    return np.array(xs), np.array(ys)


def one_marker():
    # the "1" glyph used as marker, centred on the data point
    tp = TextPath((0, 0), "1", size=1, prop=FontProperties(family="Noto Sans"))
    ext = tp.get_extents()
    verts = tp.vertices - [(ext.x0 + ext.x1) / 2, (ext.y0 + ext.y1) / 2]
    return Path(verts, tp.codes)


mean_vals, diff_vals = build_points()

fig = plt.figure(figsize=(5.52, 4.8), dpi=100)
ax = fig.add_axes([0.0996, 0.0896, 0.7772, 0.8896])

ax.plot(mean_vals, diff_vals, linestyle="none", marker=one_marker(),
        markersize=5.5, color="red", alpha=0.55,
        markeredgewidth=0.75, markeredgecolor="red", zorder=2)

ax.axhline(mean_diff, color="black", lw=1.0, zorder=3)
ax.axhline(upper_loa, color="#7f7f7f", lw=0.9, ls=(0, (1, 1.5)), zorder=3)
ax.axhline(lower_loa, color="#7f7f7f", lw=0.9, ls=(0, (1, 1.5)), zorder=3)

txt_kw = dict(xycoords="data", textcoords="offset points", ha="left",
              va="center", fontsize=7, color="#262626", annotation_clip=False)
ax.annotate(label_upper, xy=(200, upper_loa), xytext=(0, 3), **txt_kw)
ax.annotate(label_mean, xy=(200, mean_diff), xytext=(0, 0), **txt_kw)
ax.annotate(label_lower, xy=(200, lower_loa), xytext=(0, -6), **txt_kw)

ax.set_xlim(50, 200)
ax.set_ylim(-75, 75)
ax.set_xticks(x_ticks)
ax.set_yticks(y_ticks)

for side in ("top", "right"):
    ax.spines[side].set_visible(False)
for side in ("left", "bottom"):
    ax.spines[side].set_color("#262626")
    ax.spines[side].set_linewidth(0.8)

ax.tick_params(direction="in", length=3.5, width=0.8, colors="#262626",
               labelsize=9, labelcolor="#404040")
ax.set_xlabel("Mean Actual SBP & Estimated SBP (mmHg)", fontsize=9,
              color="#404040", labelpad=4)
ax.set_ylabel("Estimated SBP - Actual SBP (mmHg)", fontsize=9,
              color="#404040", labelpad=2)

fig.savefig("out.png", dpi=100)
